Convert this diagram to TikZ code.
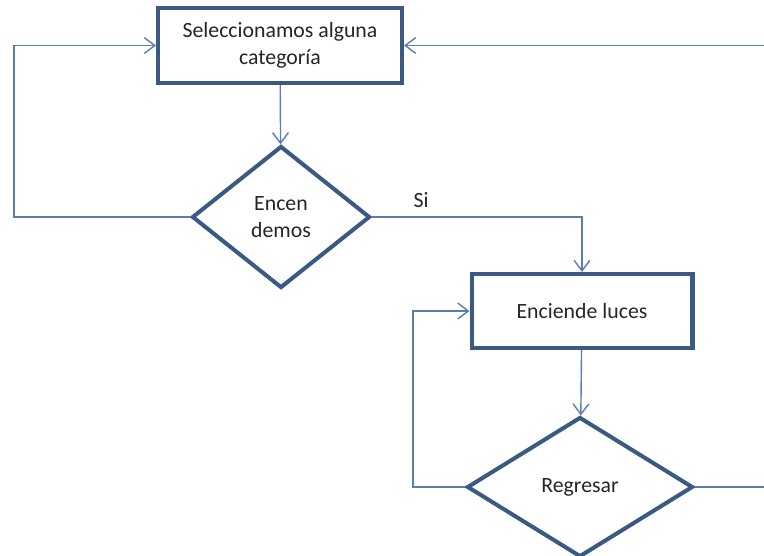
\documentclass[tikz,border=0pt]{standalone}
\usepackage{fontspec}
\setmainfont{Carlito}
\usetikzlibrary{shapes.geometric,arrows.meta}
\definecolor{boxblue}{HTML}{3A5A84}
\definecolor{lineblue}{HTML}{5A7EAE}

\begin{document}
\begin{tikzpicture}[x=0.02cm,y=-0.02cm,
    every node/.style={text=black!85,font=\fontsize{12.4}{15.3}\selectfont,align=center},
    arr/.style={draw=lineblue,line width=0.8pt,-{Straight Barb[length=6pt,width=9pt,line width=0.8pt]}},
    caja/.style={draw=boxblue,line width=2.3pt,rectangle,inner sep=0pt},
    rombo/.style={draw=boxblue,line width=2.3pt,diamond,inner sep=0pt}]
          \clip (0,0) rectangle (764,555);
          \fill[white] (0,0) rectangle (764,555);

          \node[caja,minimum width=4.88cm,minimum height=1.5cm] (S) at (280,45.5) {Seleccionamos alguna\\categoría};
          \node[rombo,minimum width=3.56cm,minimum height=2.84cm] (E) at (281,217) {Encen\\demos};
          \node[caja,minimum width=4.42cm,minimum height=1.48cm] (L) at (582,311) {Enciende luces};
          \node[rombo,minimum width=4.52cm,minimum height=2.8cm] (R) at (580,487) {Regresar};
          \node (si) at (421,200) {Si};

          \coordinate (lt) at (14,45.5);
          \coordinate (mt) at (413,311);
          \coordinate (rt) at (790,45.5);

          \draw[arr] (S) -- (E);
          \draw[arr] (E.west) -| (lt) -- (S.west);
          \draw[arr] (E.east) -| (L.north);
          \draw[arr] (L) -- (R);
          \draw[arr] (R.west) -| (mt) -- (L.west);
          \draw[arr] (R.east) -| (rt) -- (S.east);
        \end{tikzpicture}
\end{document}
